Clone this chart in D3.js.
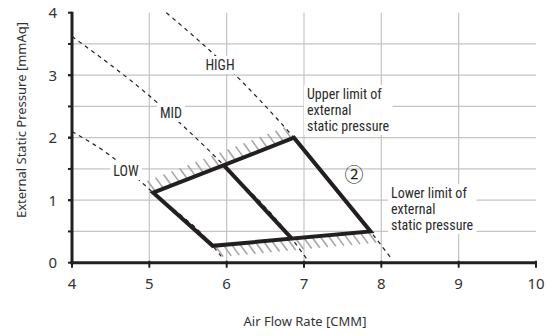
<!DOCTYPE html>
<html>
<head>
<meta charset="utf-8">
<title>Fan performance</title>
<style>
  body { margin: 0; background: #fff; }
  svg text { font-family: "Noto Sans", sans-serif; fill: #333; }
  .note { font-family: "Roboto Condensed", "Liberation Sans Narrow", "Noto Sans", sans-serif; font-size: 14px; fill: #2b2b2b; }
</style>
<script src="https://cdn.jsdelivr.net/npm/d3@7"></script>
</head>
<body>
<script>
// axis ticks
var xTicks = [4, 5, 6, 7, 8, 9, 10];
var yTicks = [0, 1, 2, 3, 4];
var yGrid = [0.5, 1, 1.5, 2, 2.5, 3, 3.5];

// fan curves (air flow CMM, static pressure mmAq)
var highX = [5.22, 5.95, 6.87, 7.86, 8.14];
var highY = [4.0, 3.2, 2.0, 0.5, 0.05];
var midX = [4.0, 5.0, 5.97, 6.84, 7.03];
var midY = [3.62, 2.67, 1.55, 0.39, 0.07];
var lowX = [4.0, 4.5, 5.05, 5.82, 5.93];
var lowY = [2.1, 1.71, 1.12, 0.27, 0.1];

// operating range
var rangeX = [5.05, 6.87, 7.86, 5.82];
var rangeY = [1.12, 2.0, 0.5, 0.27];
var innerX = [5.97, 6.84];
var innerY = [1.55, 0.39];

var W = 550, H = 336;
var svg = d3.select("body").append("svg").attr("width", W).attr("height", H);

var x = d3.scaleLinear().domain([4, 10]).range([72, 536]);
var y = d3.scaleLinear().domain([0, 4]).range([262.7, 12.7]);

// grid
svg.append("g").selectAll("line").data(xTicks.slice(1, -1)).enter().append("line")
    .attr("x1", d => x(d)).attr("x2", d => x(d))
    .attr("y1", y(0)).attr("y2", y(4))
    .attr("stroke", "#c4c4c4").attr("stroke-width", 1.2);
svg.append("g").selectAll("line").data(yGrid).enter().append("line")
    .attr("x1", x(4)).attr("x2", x(10))
    .attr("y1", d => y(d)).attr("y2", d => y(d))
    .attr("stroke", "#c4c4c4").attr("stroke-width", 1.2);

// dashed fan curves
var line = d3.line().x(d => x(d[0])).y(d => y(d[1])).curve(d3.curveMonotoneX);
[[highX, highY], [midX, midY], [lowX, lowY]].forEach(function (c) {
    svg.append("path")
        .attr("d", line(d3.zip(c[0], c[1])))
        .attr("fill", "none").attr("stroke", "#231f20")
        .attr("stroke-width", 1.2).attr("stroke-dasharray", "4,4");
});

// hatching along upper and lower limit edges
function hatch(x0, y0, x1, y1, dx, dy) {
    var px0 = x(x0), py0 = y(y0), px1 = x(x1), py1 = y(y1);
    var n = Math.floor((px1 - px0) / 8.2);
    for (var i = 0; i <= n; i++) {
        var t = (i + 0.3) / (n + 0.6);
        var px = px0 + (px1 - px0) * t, py = py0 + (py1 - py0) * t;
        svg.append("line")
            .attr("x1", px).attr("y1", py)
            .attr("x2", px + dx).attr("y2", py + dy)
            .attr("stroke", "#a6a6a6").attr("stroke-width", 1.6);
    }
}
hatch(rangeX[0], rangeY[0], rangeX[1], rangeY[1], -8, -11);
hatch(rangeX[3], rangeY[3], rangeX[2], rangeY[2], 8, 11);

// operating range polygon
svg.append("path")
    .attr("d", "M" + rangeX.map((v, i) => x(v) + "," + y(rangeY[i])).join("L") + "Z")
    .attr("fill", "none").attr("stroke", "#231f20").attr("stroke-width", 4)
    .attr("stroke-linejoin", "miter");
svg.append("line")
    .attr("x1", x(innerX[0])).attr("y1", y(innerY[0]))
    .attr("x2", x(innerX[1])).attr("y2", y(innerY[1]))
    .attr("stroke", "#231f20").attr("stroke-width", 4);

// labels with white boxes
function note(lines, px, py, anchor) {
    var g = svg.append("g");
    var bg = g.append("rect").attr("fill", "#fff");
    var t = g.append("text").attr("class", "note").attr("text-anchor", anchor || "start");
    lines.forEach(function (s, i) {
        t.append("tspan").attr("x", px).attr("y", py + i * 16).text(s);
    });
    var b = t.node().getBBox();
    bg.attr("x", b.x - 3).attr("y", b.y - 1).attr("width", b.width + 6).attr("height", b.height + 2);
}
note(["HIGH"], 220, 70, "middle");
note(["MID"], 171, 118, "middle");
note(["LOW"], 126, 176, "middle");
note(["Upper limit of", "external", "static pressure"], 307, 99);
note(["Lower limit of", "external", "static pressure"], 391, 198);

svg.append("text").attr("x", 354).attr("y", 182).attr("text-anchor", "middle")
    .style("font-family", "'Noto Sans CJK JP', 'DejaVu Sans', sans-serif")
    .style("font-size", "19px").style("fill", "#231f20")
    .text("②");

// axes
svg.append("line").attr("x1", x(4)).attr("x2", x(4)).attr("y1", y(4) - 1).attr("y2", y(0) + 1.5)
    .attr("stroke", "#231f20").attr("stroke-width", 3);
svg.append("line").attr("x1", x(4) - 1.5).attr("x2", x(10) + 1).attr("y1", y(0)).attr("y2", y(0))
    .attr("stroke", "#231f20").attr("stroke-width", 3);

svg.append("g").selectAll("line").data(yGrid.concat(yTicks)).enter().append("line")
    .attr("x1", x(4) - 4).attr("x2", x(4))
    .attr("y1", d => y(d)).attr("y2", d => y(d))
    .attr("stroke", "#231f20").attr("stroke-width", 2);
svg.append("g").selectAll("line").data(xTicks).enter().append("line")
    .attr("x1", d => x(d)).attr("x2", d => x(d))
    .attr("y1", y(0) - 2).attr("y2", y(0) + 5)
    .attr("stroke", "#231f20").attr("stroke-width", 2);

svg.append("g").selectAll("text").data(yTicks).enter().append("text")
    .attr("x", 57).attr("y", d => y(d) + 5.5)
    .attr("text-anchor", "end").style("font-size", "15px")
    .text(d => d);
svg.append("g").selectAll("text").data(xTicks).enter().append("text")
    .attr("x", d => x(d)).attr("y", 289)
    .attr("text-anchor", "middle").style("font-size", "15px")
    .text(d => d);

svg.append("text").attr("x", 305).attr("y", 326).attr("text-anchor", "middle")
    .style("font-size", "13px").text("Air Flow Rate [CMM]");
svg.append("text").attr("transform", "translate(26,120) rotate(-90)")
    .attr("text-anchor", "middle").style("font-size", "13px")
    .text("External Static Pressure [mmAq]");
</script>
</body>
</html>
